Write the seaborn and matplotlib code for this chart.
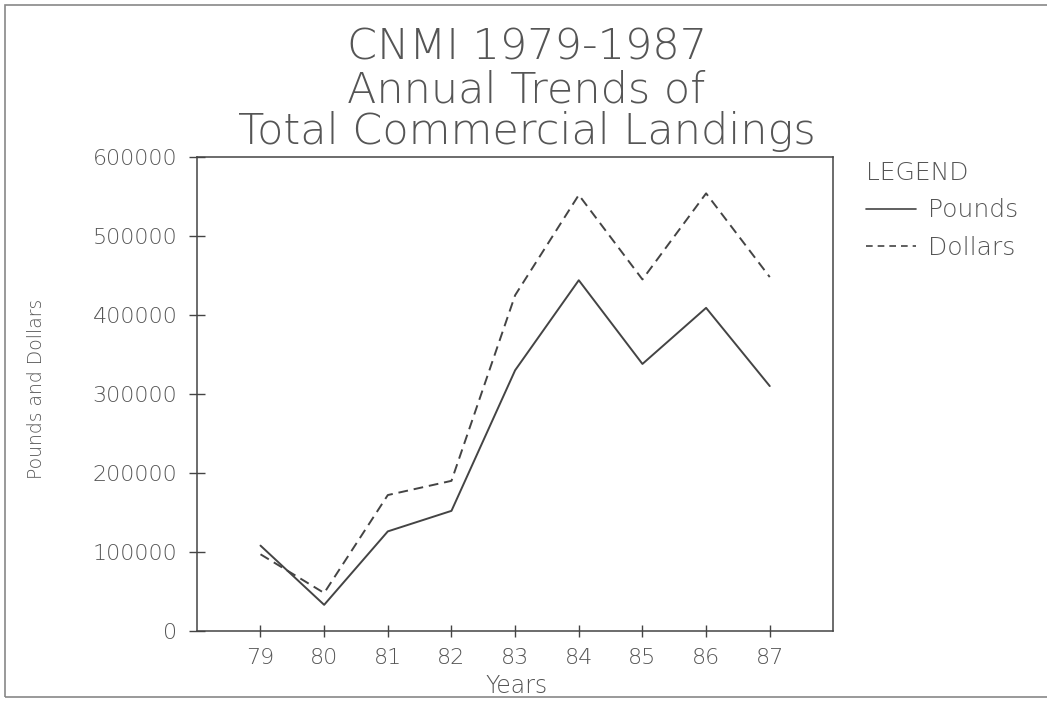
import matplotlib
matplotlib.use("Agg")
import matplotlib.pyplot as plt
import seaborn as sns
import pandas as pd
from matplotlib.lines import Line2D
from matplotlib.patches import Rectangle

years = [79, 80, 81, 82, 83, 84, 85, 86, 87]
pounds = [108000, 33000, 126000, 152000, 330000, 444000, 338000, 409000, 310000]
dollars = [97000, 48000, 172000, 190000, 425000, 552000, 445000, 554000, 448000]
y_ticks = [0, 100000, 200000, 300000, 400000, 500000, 600000]

df = pd.DataFrame({
    "Years": years * 2,
    "value": pounds + dollars,
    "series": ["Pounds"] * len(years) + ["Dollars"] * len(years),
})

sns.set_style("white")
plt.rcParams["font.family"] = ["DejaVu Sans"]
plt.rcParams["font.weight"] = "light"
plt.rcParams["axes.labelweight"] = "light"

ink = "#444444"
txt = "#555555"

fig = plt.figure(figsize=(10.47, 7.01), dpi=100)
ax = fig.add_axes([0.188, 0.100, 0.608, 0.676])

sns.lineplot(data=df, x="Years", y="value", style="series",
             dashes={"Pounds": "", "Dollars": (5, 3)},
             color=ink, linewidth=1.4, legend=False, ax=ax)

ax.set_xlim(78, 88)
ax.set_ylim(0, 600000)
ax.set_xticks(years)
ax.set_xticklabels([str(y) for y in years])
ax.set_yticks(y_ticks)
ax.set_yticklabels([str(v) for v in y_ticks])
ax.tick_params(axis="both", bottom=True, left=True, direction="inout",
               width=1, color=ink, labelsize=16, labelcolor=txt)
ax.tick_params(axis="x", length=9, pad=8)
ax.tick_params(axis="y", length=12, pad=8)
for s in ax.spines.values():
    s.set_visible(True)
    s.set_color(ink)
    s.set_linewidth(1.1)

ax.set_xlabel("Years", fontsize=17, color=txt, fontweight="light")
ax.xaxis.set_label_coords(0.502, -0.09)
ax.set_ylabel("Pounds and Dollars", fontsize=13.5, color=txt, fontweight="light")
ax.yaxis.set_label_coords(-0.237, 0.51)

title_lines = ["CNMI 1979-1987", "Annual Trends of", "Total Commercial Landings"]
title_y = [0.933, 0.871, 0.812]
for line, yy in zip(title_lines, title_y):
    fig.text(0.503, yy, line, ha="center", va="center",
             fontsize=31, color=txt)

handles = [Line2D([], [], color=ink, linewidth=1.2),
           Line2D([], [], color=ink, linewidth=1.2, dashes=(4, 3))]
leg = fig.legend(handles, ["Pounds", "Dollars"], title="LEGEND",
                 loc="upper left", bbox_to_anchor=(0.806, 0.803),
                 frameon=False, fontsize=18, title_fontsize=18,
                 handlelength=2.0, handletextpad=0.45, labelspacing=0.55,
                 alignment="left")
leg.get_title().set_color(txt)
for t in leg.get_texts():
    t.set_color(txt)

fig.patches.append(Rectangle((0.005, 0.006), 1.0, 0.987, transform=fig.transFigure,
                             fill=False, edgecolor="#888888", linewidth=1.2))

fig.savefig("out.png", dpi=100)
